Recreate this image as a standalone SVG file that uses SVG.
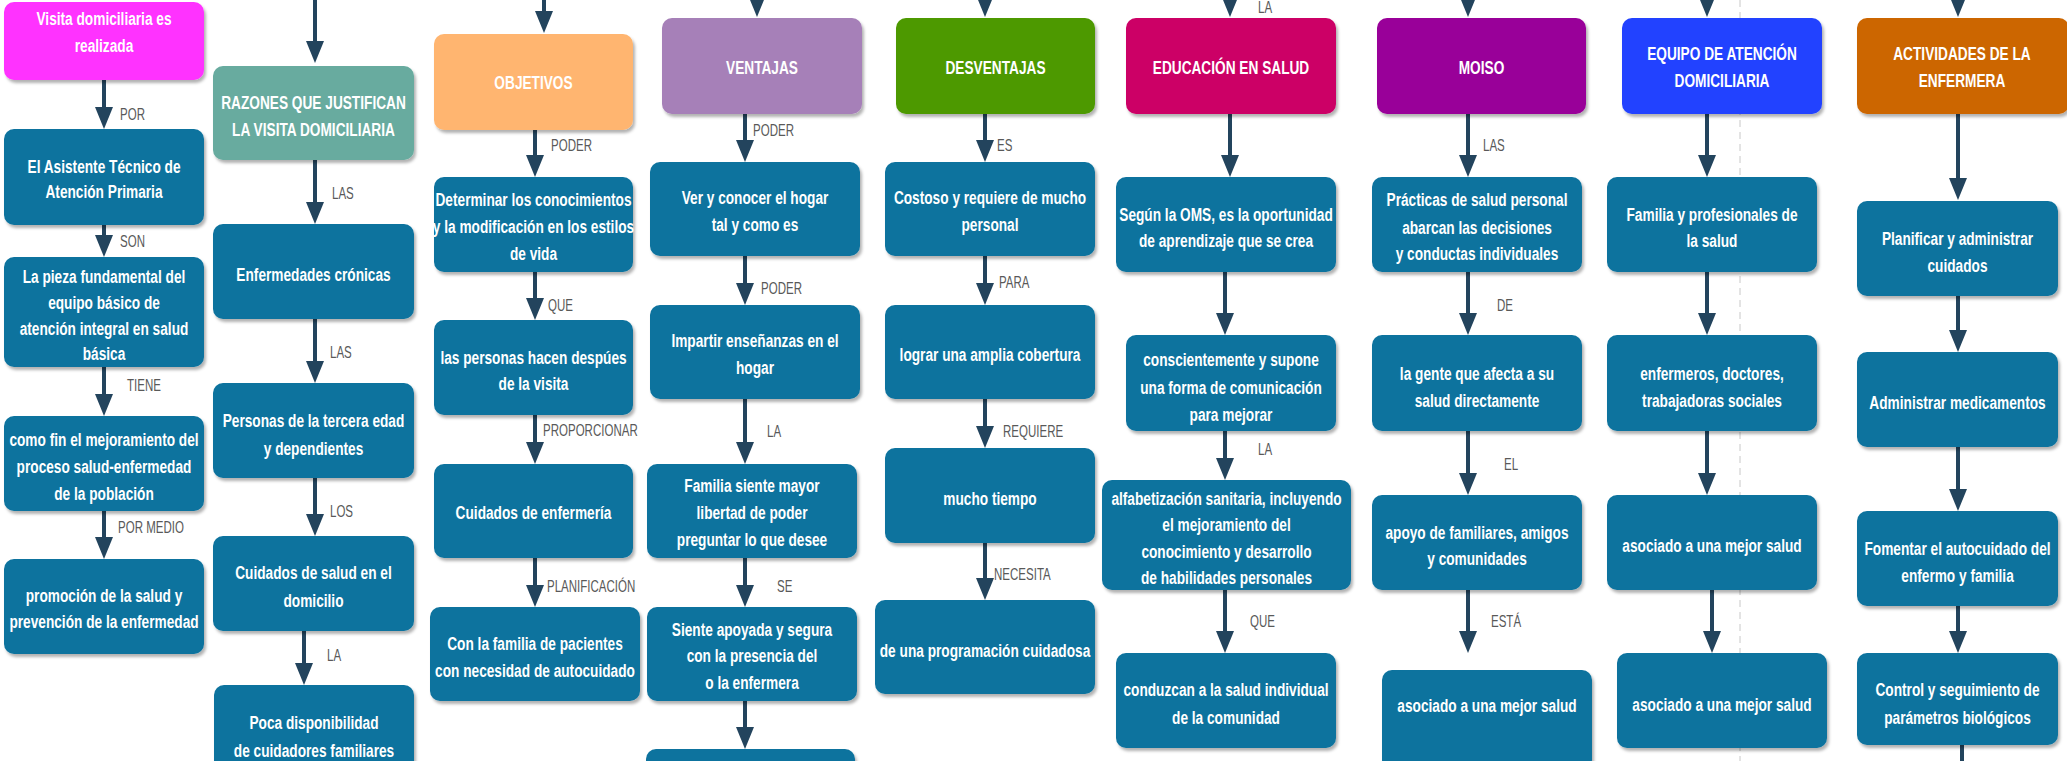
<svg xmlns="http://www.w3.org/2000/svg" width="2067" height="761" viewBox="0 0 2067 761">
<style>
.b{fill:#10739e;filter:url(#sh)}
.t{font-family:"Liberation Sans",Arial,sans-serif;font-weight:bold;font-size:19px;fill:#fff;text-anchor:middle}
.l{font-family:"Liberation Sans",Arial,sans-serif;font-size:16px;fill:#595959}
.c{fill:none;stroke:#23445d;stroke-width:4;marker-end:url(#ah)}
.p{fill:none;stroke:#23445d;stroke-width:4}
</style>
<defs>
<filter id="sh" x="-5%" y="-5%" width="115%" height="125%"><feDropShadow dx="2" dy="3" stdDeviation="1.5" flood-color="#000" flood-opacity="0.3"/></filter>
<marker id="ah" markerUnits="userSpaceOnUse" markerWidth="22" markerHeight="18" viewBox="0 0 22 18" refX="0" refY="9" orient="auto"><path d="M0,0 L22,9 L0,18 z" fill="#23445d"/></marker>
</defs>
<rect width="2067" height="761" fill="#fff"/>
<line x1="1740" y1="0" x2="1740" y2="761" stroke="#c8c8c8" stroke-width="1" stroke-dasharray="7 5"/>

<g id="connectors">
<path class="c" d="M104 80V107"/><path class="c" d="M104 225V235"/><path class="c" d="M104 367V394"/><path class="c" d="M104 511V537"/>
<path class="c" d="M315 -20V41"/><path class="c" d="M315 160V202"/><path class="c" d="M315 319V361"/><path class="c" d="M315 478V514"/><path class="c" d="M304 631V663"/>
<path class="c" d="M544 -20V11"/><path class="c" d="M535 130V155"/><path class="c" d="M535 272V298"/><path class="c" d="M535 415V442"/><path class="c" d="M535 558V585"/>
<path class="c" d="M757 -40V-5"/><path class="c" d="M745 114V140"/><path class="c" d="M745 256V283"/><path class="c" d="M745 399V442"/><path class="c" d="M745 558V585"/><path class="c" d="M745 701V727"/>
<path class="c" d="M985 -40V-5"/><path class="c" d="M985 114V140"/><path class="c" d="M985 256V283"/><path class="c" d="M985 399V426"/><path class="c" d="M985 543V578"/>
<path class="c" d="M1230 -40V-5"/><path class="c" d="M1230 114V155"/><path class="c" d="M1225 272V313"/><path class="c" d="M1225 431V458"/><path class="c" d="M1225 590V631"/>
<path class="c" d="M1468 -40V-5"/><path class="c" d="M1468 114V155"/><path class="c" d="M1468 272V313"/><path class="c" d="M1468 431V473"/><path class="c" d="M1468 590V631"/>
<path class="c" d="M1707 -40V-5"/><path class="c" d="M1707 114V155"/><path class="c" d="M1707 272V313"/><path class="c" d="M1707 431V473"/><path class="c" d="M1712 590V631"/>
<path class="c" d="M1958 -40V-5"/><path class="c" d="M1958 114V178"/><path class="c" d="M1958 296V330"/><path class="c" d="M1958 447V489"/><path class="c" d="M1958 606V631"/><path class="p" d="M1962 745V765"/>
<g id="labels">
<text class="l" transform="translate(120 119.5) scale(.72 1)">POR</text>
<text class="l" transform="translate(120 246.5) scale(.72 1)">SON</text>
<text class="l" transform="translate(127 390.5) scale(.72 1)">TIENE</text>
<text class="l" transform="translate(118 532.5) scale(.72 1)">POR MEDIO</text>
<text class="l" transform="translate(332 198.5) scale(.72 1)">LAS</text>
<text class="l" transform="translate(330 357.5) scale(.72 1)">LAS</text>
<text class="l" transform="translate(330 516.5) scale(.72 1)">LOS</text>
<text class="l" transform="translate(327 660.5) scale(.72 1)">LA</text>
<text class="l" transform="translate(551 150.5) scale(.72 1)">PODER</text>
<text class="l" transform="translate(548 310.5) scale(.72 1)">QUE</text>
<text class="l" transform="translate(543 435.5) scale(.72 1)">PROPORCIONAR</text>
<text class="l" transform="translate(547 591.5) scale(.72 1)">PLANIFICACIÓN</text>
<text class="l" transform="translate(753 135.5) scale(.72 1)">PODER</text>
<text class="l" transform="translate(761 293.5) scale(.72 1)">PODER</text>
<text class="l" transform="translate(767 436.5) scale(.72 1)">LA</text>
<text class="l" transform="translate(777 591.5) scale(.72 1)">SE</text>
<text class="l" transform="translate(997 150.5) scale(.72 1)">ES</text>
<text class="l" transform="translate(999 287.5) scale(.72 1)">PARA</text>
<text class="l" transform="translate(1003 436.5) scale(.72 1)">REQUIERE</text>
<text class="l" transform="translate(994 579.5) scale(.72 1)">NECESITA</text>
<text class="l" transform="translate(1258 12.5) scale(.72 1)">LA</text>
<text class="l" transform="translate(1258 454.5) scale(.72 1)">LA</text>
<text class="l" transform="translate(1250 626.5) scale(.72 1)">QUE</text>
<text class="l" transform="translate(1483 150.5) scale(.72 1)">LAS</text>
<text class="l" transform="translate(1497 310.5) scale(.72 1)">DE</text>
<text class="l" transform="translate(1504 469.5) scale(.72 1)">EL</text>
<text class="l" transform="translate(1491 626.5) scale(.72 1)">ESTÁ</text>
</g>
</g>

<g id="n1_0"><rect class="b" style="fill:#ff33ff" x="4" y="2" width="200" height="78" rx="10"/><text class="t" transform="translate(104 0) scale(.72 1)"><tspan x="0" y="25">Visita domiciliaria es</tspan><tspan x="0" y="52">realizada</tspan></text></g>
<g id="n1_1"><rect class="b" x="4" y="129" width="200" height="96" rx="10"/><text class="t" transform="translate(104 0) scale(.72 1)"><tspan x="0" y="173">El Asistente Técnico de</tspan><tspan x="0" y="198">Atención Primaria</tspan></text></g>
<g id="n1_2"><rect class="b" x="4" y="257" width="200" height="110" rx="10"/><text class="t" transform="translate(104 0) scale(.72 1)"><tspan x="0" y="283">La pieza fundamental del</tspan><tspan x="0" y="309">equipo básico de</tspan><tspan x="0" y="335">atención integral en salud</tspan><tspan x="0" y="360">básica</tspan></text></g>
<g id="n1_3"><rect class="b" x="4" y="416" width="200" height="95" rx="10"/><text class="t" transform="translate(104 0) scale(.72 1)"><tspan x="0" y="446">como fin el mejoramiento del</tspan><tspan x="0" y="473">proceso salud-enfermedad</tspan><tspan x="0" y="500">de la población</tspan></text></g>
<g id="n1_4"><rect class="b" x="4" y="559" width="200" height="95" rx="10"/><text class="t" transform="translate(104 0) scale(.72 1)"><tspan x="0" y="602">promoción de la salud y</tspan><tspan x="0" y="628">prevención de la enfermedad</tspan></text></g>

<g id="n2_0"><rect class="b" style="fill:#67ab9f" x="213" y="66" width="201" height="94" rx="10"/><text class="t" transform="translate(313.5 0) scale(.72 1)"><tspan x="0" y="109">RAZONES QUE JUSTIFICAN</tspan><tspan x="0" y="136">LA VISITA DOMICILIARIA</tspan></text></g>
<g id="n2_1"><rect class="b" x="213" y="224" width="201" height="95" rx="10"/><text class="t" transform="translate(313.5 0) scale(.72 1)"><tspan x="0" y="281">Enfermedades crónicas</tspan></text></g>
<g id="n2_2"><rect class="b" x="213" y="383" width="201" height="95" rx="10"/><text class="t" transform="translate(313.5 0) scale(.72 1)"><tspan x="0" y="427">Personas de la tercera edad</tspan><tspan x="0" y="455">y dependientes</tspan></text></g>
<g id="n2_3"><rect class="b" x="213" y="536" width="201" height="95" rx="10"/><text class="t" transform="translate(313.5 0) scale(.72 1)"><tspan x="0" y="579">Cuidados de salud en el</tspan><tspan x="0" y="607">domicilio</tspan></text></g>
<g id="n2_4"><rect class="b" x="214" y="685" width="200" height="100" rx="10"/><text class="t" transform="translate(314 0) scale(.72 1)"><tspan x="0" y="729">Poca disponibilidad</tspan><tspan x="0" y="757">de cuidadores familiares</tspan></text></g>

<g id="n3_0"><rect class="b" style="fill:#ffb570" x="434" y="34" width="199" height="96" rx="10"/><text class="t" transform="translate(533.5 0) scale(.72 1)"><tspan x="0" y="89">OBJETIVOS</tspan></text></g>
<g id="n3_1"><rect class="b" x="434" y="177" width="199" height="95" rx="10"/><text class="t" transform="translate(533.5 0) scale(.72 1)"><tspan x="0" y="206">Determinar los conocimientos</tspan><tspan x="0" y="233">y la modificación en los estilos</tspan><tspan x="0" y="260">de vida</tspan></text></g>
<g id="n3_2"><rect class="b" x="434" y="320" width="199" height="95" rx="10"/><text class="t" transform="translate(533.5 0) scale(.72 1)"><tspan x="0" y="364">las personas hacen despúes</tspan><tspan x="0" y="390">de la visita</tspan></text></g>
<g id="n3_3"><rect class="b" x="434" y="464" width="199" height="94" rx="10"/><text class="t" transform="translate(533.5 0) scale(.72 1)"><tspan x="0" y="519">Cuidados de enfermería</tspan></text></g>
<g id="n3_4"><rect class="b" x="430" y="607" width="210" height="94" rx="10"/><text class="t" transform="translate(535 0) scale(.72 1)"><tspan x="0" y="650">Con la familia de pacientes</tspan><tspan x="0" y="677">con necesidad de autocuidado</tspan></text></g>

<g id="n4_0"><rect class="b" style="fill:#a680b8" x="662" y="18" width="200" height="96" rx="10"/><text class="t" transform="translate(762 0) scale(.72 1)"><tspan x="0" y="74">VENTAJAS</tspan></text></g>
<g id="n4_1"><rect class="b" x="650" y="162" width="210" height="94" rx="10"/><text class="t" transform="translate(755 0) scale(.72 1)"><tspan x="0" y="204">Ver y conocer el hogar</tspan><tspan x="0" y="231">tal y como es</tspan></text></g>
<g id="n4_2"><rect class="b" x="650" y="305" width="210" height="94" rx="10"/><text class="t" transform="translate(755 0) scale(.72 1)"><tspan x="0" y="347">Impartir enseñanzas en el</tspan><tspan x="0" y="374">hogar</tspan></text></g>
<g id="n4_3"><rect class="b" x="647" y="464" width="210" height="94" rx="10"/><text class="t" transform="translate(752 0) scale(.72 1)"><tspan x="0" y="492">Familia siente mayor</tspan><tspan x="0" y="519">libertad de poder</tspan><tspan x="0" y="546">preguntar lo que desee</tspan></text></g>
<g id="n4_4"><rect class="b" x="647" y="607" width="210" height="94" rx="10"/><text class="t" transform="translate(752 0) scale(.72 1)"><tspan x="0" y="636">Siente apoyada y segura</tspan><tspan x="0" y="662">con la presencia del</tspan><tspan x="0" y="689">o la enfermera</tspan></text></g>
<g id="n4_5"><rect class="b" x="646" y="749" width="209" height="40" rx="10"/></g>

<g id="n5_0"><rect class="b" style="fill:#4d9900" x="896" y="18" width="199" height="96" rx="10"/><text class="t" transform="translate(995.5 0) scale(.72 1)"><tspan x="0" y="74">DESVENTAJAS</tspan></text></g>
<g id="n5_1"><rect class="b" x="885" y="162" width="210" height="94" rx="10"/><text class="t" transform="translate(990 0) scale(.72 1)"><tspan x="0" y="204">Costoso y requiere de mucho</tspan><tspan x="0" y="231">personal</tspan></text></g>
<g id="n5_2"><rect class="b" x="885" y="305" width="210" height="94" rx="10"/><text class="t" transform="translate(990 0) scale(.72 1)"><tspan x="0" y="361">lograr una amplia cobertura</tspan></text></g>
<g id="n5_3"><rect class="b" x="885" y="448" width="210" height="95" rx="10"/><text class="t" transform="translate(990 0) scale(.72 1)"><tspan x="0" y="505">mucho tiempo</tspan></text></g>
<g id="n5_4"><rect class="b" x="875" y="600" width="220" height="94" rx="10"/><text class="t" transform="translate(985 0) scale(.72 1)"><tspan x="0" y="657">de una programación cuidadosa</tspan></text></g>

<g id="n6_0"><rect class="b" style="fill:#cc0066" x="1126" y="18" width="210" height="96" rx="10"/><text class="t" transform="translate(1231 0) scale(.72 1)"><tspan x="0" y="74">EDUCACIÓN EN SALUD</tspan></text></g>
<g id="n6_1"><rect class="b" x="1116" y="177" width="220" height="95" rx="10"/><text class="t" transform="translate(1226 0) scale(.72 1)"><tspan x="0" y="221">Según la OMS, es la oportunidad</tspan><tspan x="0" y="247">de aprendizaje que se crea</tspan></text></g>
<g id="n6_2"><rect class="b" x="1126" y="335" width="210" height="96" rx="10"/><text class="t" transform="translate(1231 0) scale(.72 1)"><tspan x="0" y="366">conscientemente y supone</tspan><tspan x="0" y="394">una forma de comunicación</tspan><tspan x="0" y="421">para mejorar</tspan></text></g>
<g id="n6_3"><rect class="b" x="1102" y="480" width="249" height="110" rx="10"/><text class="t" transform="translate(1226.5 0) scale(.72 1)"><tspan x="0" y="505">alfabetización sanitaria, incluyendo</tspan><tspan x="0" y="531">el mejoramiento del</tspan><tspan x="0" y="558">conocimiento y desarrollo</tspan><tspan x="0" y="584">de habilidades personales</tspan></text></g>
<g id="n6_4"><rect class="b" x="1116" y="653" width="220" height="95" rx="10"/><text class="t" transform="translate(1226 0) scale(.72 1)"><tspan x="0" y="696">conduzcan a la salud individual</tspan><tspan x="0" y="724">de la comunidad</tspan></text></g>

<g id="n7_0"><rect class="b" style="fill:#990099" x="1377" y="18" width="209" height="96" rx="10"/><text class="t" transform="translate(1481.5 0) scale(.72 1)"><tspan x="0" y="74">MOISO</tspan></text></g>
<g id="n7_1"><rect class="b" x="1372" y="177" width="210" height="95" rx="10"/><text class="t" transform="translate(1477 0) scale(.72 1)"><tspan x="0" y="206">Prácticas de salud personal</tspan><tspan x="0" y="234">abarcan las decisiones</tspan><tspan x="0" y="260">y conductas individuales</tspan></text></g>
<g id="n7_2"><rect class="b" x="1372" y="335" width="210" height="96" rx="10"/><text class="t" transform="translate(1477 0) scale(.72 1)"><tspan x="0" y="380">la gente que afecta a su</tspan><tspan x="0" y="407">salud directamente</tspan></text></g>
<g id="n7_3"><rect class="b" x="1372" y="495" width="210" height="95" rx="10"/><text class="t" transform="translate(1477 0) scale(.72 1)"><tspan x="0" y="539">apoyo de familiares, amigos</tspan><tspan x="0" y="565">y comunidades</tspan></text></g>
<g id="n7_4"><rect class="b" x="1382" y="670" width="210" height="100" rx="10"/><text class="t" transform="translate(1487 0) scale(.72 1)"><tspan x="0" y="712">asociado a una mejor salud</tspan></text></g>

<g id="n8_0"><rect class="b" style="fill:#2143ff" x="1622" y="18" width="200" height="96" rx="10"/><text class="t" transform="translate(1722 0) scale(.72 1)"><tspan x="0" y="60">EQUIPO DE ATENCIÓN</tspan><tspan x="0" y="87">DOMICILIARIA</tspan></text></g>
<g id="n8_1"><rect class="b" x="1607" y="177" width="210" height="95" rx="10"/><text class="t" transform="translate(1712 0) scale(.72 1)"><tspan x="0" y="221">Familia y profesionales de</tspan><tspan x="0" y="247">la salud</tspan></text></g>
<g id="n8_2"><rect class="b" x="1607" y="335" width="210" height="96" rx="10"/><text class="t" transform="translate(1712 0) scale(.72 1)"><tspan x="0" y="380">enfermeros, doctores,</tspan><tspan x="0" y="407">trabajadoras sociales</tspan></text></g>
<g id="n8_3"><rect class="b" x="1607" y="495" width="210" height="95" rx="10"/><text class="t" transform="translate(1712 0) scale(.72 1)"><tspan x="0" y="552">asociado a una mejor salud</tspan></text></g>
<g id="n8_4"><rect class="b" x="1617" y="653" width="210" height="95" rx="10"/><text class="t" transform="translate(1722 0) scale(.72 1)"><tspan x="0" y="711">asociado a una mejor salud</tspan></text></g>

<g id="n9_0"><rect class="b" style="fill:#cc6600" x="1857" y="18" width="212" height="96" rx="10"/><text class="t" transform="translate(1962 0) scale(.72 1)"><tspan x="0" y="60">ACTIVIDADES DE LA</tspan><tspan x="0" y="87">ENFERMERA</tspan></text></g>
<g id="n9_1"><rect class="b" x="1857" y="201" width="201" height="95" rx="10"/><text class="t" transform="translate(1957.5 0) scale(.72 1)"><tspan x="0" y="245">Planificar y administrar</tspan><tspan x="0" y="272">cuidados</tspan></text></g>
<g id="n9_2"><rect class="b" x="1857" y="352" width="201" height="95" rx="10"/><text class="t" transform="translate(1957.5 0) scale(.72 1)"><tspan x="0" y="409">Administrar medicamentos</tspan></text></g>
<g id="n9_3"><rect class="b" x="1857" y="511" width="201" height="95" rx="10"/><text class="t" transform="translate(1957.5 0) scale(.72 1)"><tspan x="0" y="555">Fomentar el autocuidado del</tspan><tspan x="0" y="582">enfermo y familia</tspan></text></g>
<g id="n9_4"><rect class="b" x="1857" y="653" width="201" height="92" rx="10"/><text class="t" transform="translate(1957.5 0) scale(.72 1)"><tspan x="0" y="696">Control y seguimiento de</tspan><tspan x="0" y="724">parámetros biológicos</tspan></text></g>
</svg>
